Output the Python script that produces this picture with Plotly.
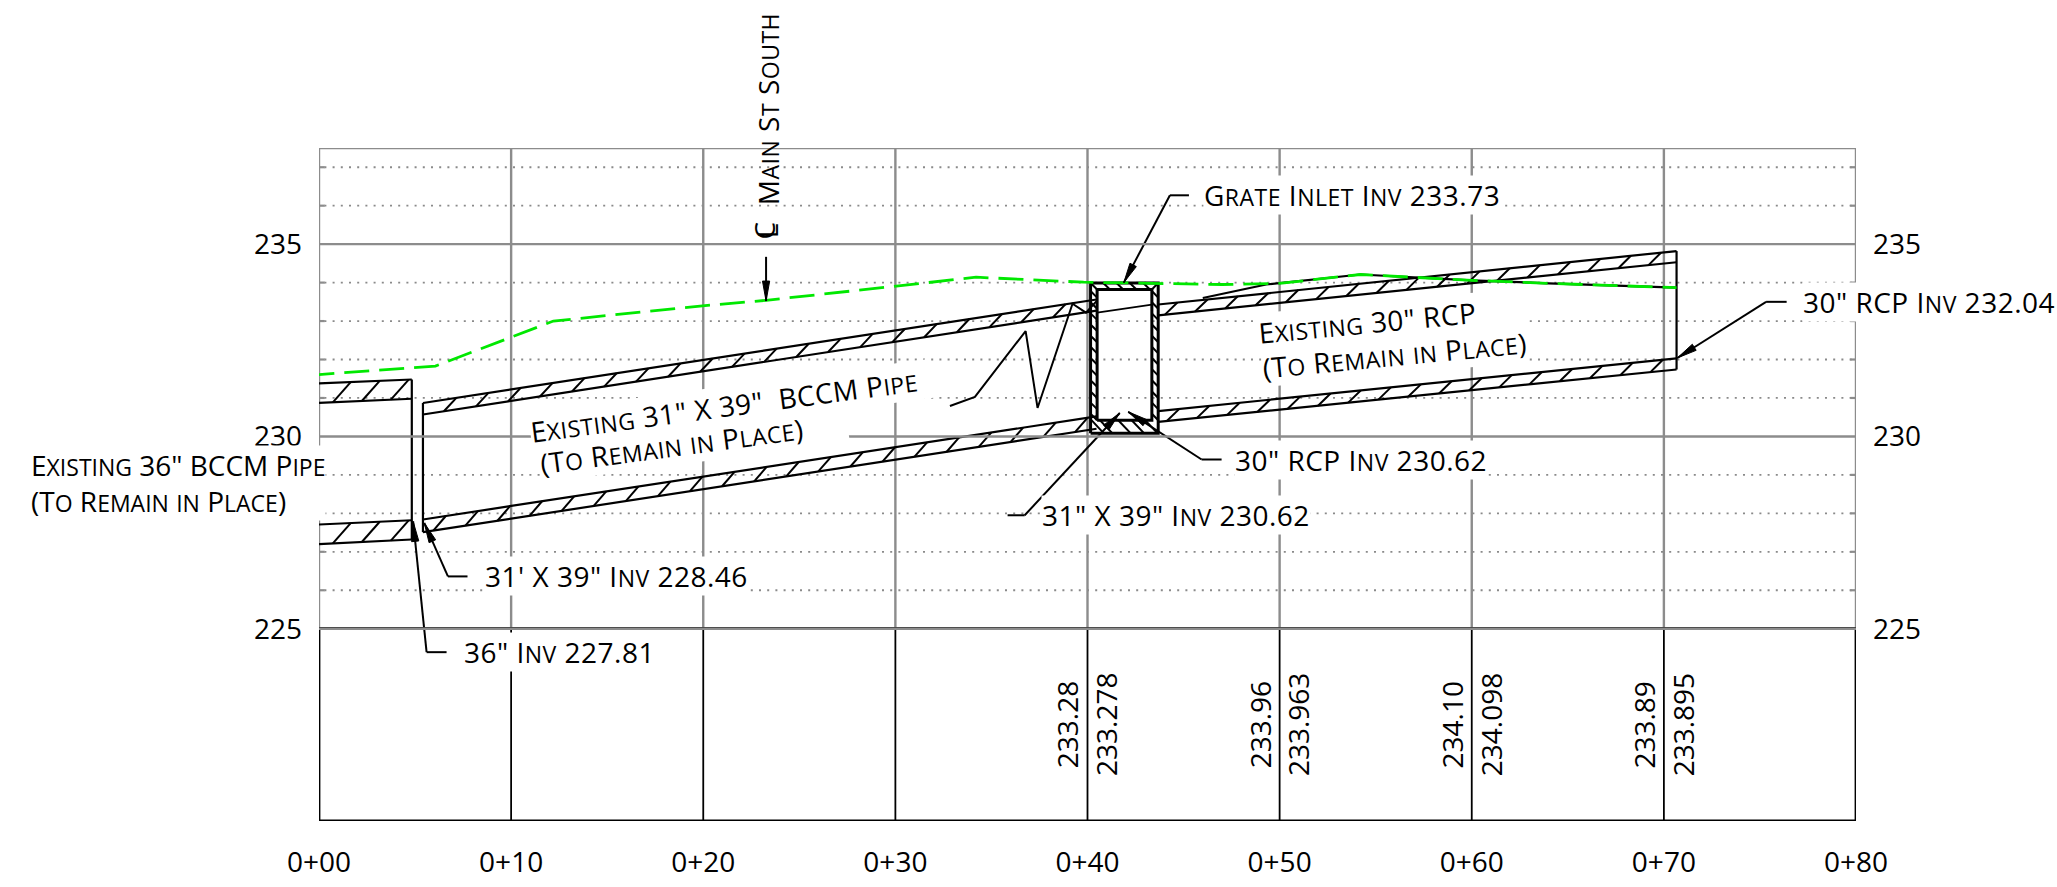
import numpy as np
import plotly.graph_objects as go

STATIONS = [0, 10, 20, 30, 40, 50, 60, 70, 80]
STATION_LABELS = ["0+00", "0+10", "0+20", "0+30", "0+40", "0+50", "0+60", "0+70", "0+80"]
ELEV_MAJOR = [225, 230, 235]
ELEV_MINOR = [226, 227, 228, 229, 231, 232, 233, 234, 236, 237]

TABLE_STATIONS = [40, 50, 60, 70]
TABLE_EXISTING = ["233.28", "233.96", "234.10", "233.89"]
TABLE_PROPOSED = ["233.278", "233.963", "234.098", "233.895"]

GROUND_X = [-0.5, 6.06, 6.64, 12.2, 19.83, 23.27, 29.9, 34.2, 39.8, 44, 47, 50, 54.2, 60, 64, 70.66]
GROUND_Y = [231.59, 231.83, 231.94, 233.0, 233.39, 233.54, 233.9, 234.14, 234.01, 233.97, 233.95, 233.98, 234.21, 234.06, 233.98, 233.87]
GROUND_BLACK_X = [46.0, 49.3, 54.2, 60, 64, 70.66]
GROUND_BLACK_Y = [233.6, 233.95, 234.21, 234.06, 233.98, 233.87]

P36_X = [0, 4.83]
P36_CROWN_OUT = [231.38, 231.48]
P36_CROWN_IN = [230.87, 230.98]
P36_INV_IN = [227.71, 227.82]
P36_INV_OUT = [227.2, 227.32]

BC_X = [5.41, 40.47]
BC_CROWN_OUT = [230.87, 233.56]
BC_CROWN_IN = [230.57, 233.27]
BC_INV_IN = [227.84, 230.52]
BC_INV_OUT = [227.51, 230.2]

RCP_X = [43.68, 70.66]
RCP_CROWN_OUT = [233.43, 234.82]
RCP_CROWN_IN = [233.15, 234.53]
RCP_INV_IN = [230.66, 232.03]
RCP_INV_OUT = [230.38, 231.74]

BOX_OUT_X = [40.16, 43.68]
BOX_OUT_Y = [230.08, 233.99]
BOX_IN_X = [40.5, 43.35]
BOX_IN_Y = [230.42, 233.82]

HATCH_P36 = [0.72, 2.23, 3.74]
HATCH_BC_TOP = [6.5, 8.17, 9.84, 11.5, 13.17, 14.84, 16.5, 18.17, 19.84, 21.5, 23.17, 24.84, 26.5, 28.17, 29.84, 31.5, 33.2, 34.9, 36.55, 38.2]
HATCH_BC_BOT = [5.95, 7.62, 9.29, 10.96, 12.63, 14.3, 15.97, 17.64, 19.31, 20.98, 22.65, 24.32, 25.99, 27.66, 29.33, 31.0, 32.67, 34.34, 36.0, 37.7, 39.35]
HATCH_RCP_TOP = [44.03, 45.6, 47.17, 48.75, 50.32, 51.9, 53.47, 55.04, 56.6, 58.2, 59.76, 61.33, 62.9, 64.48, 66.05, 67.63, 69.2]
HATCH_RCP_BOT = [44.13, 45.7, 47.27, 48.85, 50.42, 52.0, 53.57, 55.14, 56.7, 58.3, 59.86, 61.43, 63.0, 64.58, 66.15, 67.73, 69.3]
HATCH_WALL_Y = [233.78, 233.49, 233.2, 232.91, 232.62, 232.33, 232.04, 231.75, 231.46, 231.17, 230.88, 230.59]
HATCH_TOP_SLAB = [40.82, 41.51, 42.2, 42.9]
HATCH_BOT_SLAB = [40.65, 41.6, 42.3, 43.0]

ZIGZAG_X = [32.84, 34.14, 36.78, 37.40, 39.22, 39.92, 40.47]
ZIGZAG_Y = [230.79, 231.03, 232.74, 230.74, 233.45, 233.22, 233.52]

LEADERS = [
    ([45.28, 44.29], [236.27, 236.27], (41.89, 234.0)),
    ([76.39, 75.32], [233.5, 233.5], (70.7, 232.04)),
    ([35.84, 36.73], [227.95, 227.95], (41.68, 230.61)),
    ([46.98, 45.94], [229.4, 229.4], (42.12, 230.64)),
    ([6.64, 5.6], [224.39, 224.39], (4.9, 227.79)),
    ([7.73, 6.71], [226.36, 226.36], (5.48, 227.75)),
    ([23.27, 23.27], [234.67, 234.67], (23.27, 233.52)),
]

FONT = "Open Sans"
WEIGHT = 400
INK = "#000000"
GRAY = "#8c8c8c"
SIZE = 28
PX_X = 19.22
PX_Y = 38.44
NB = "\u00a0"


def sc(text, size=SIZE, spacing=0.5):
    small = int(size * 0.85)
    out, run = "", ""
    for ch in text:
        if ch.islower():
            run += ch.upper()
        else:
            if run:
                out += f'<span style="font-size:{small}px">{run}</span>'
                run = ""
            out += ch
    if run:
        out += f'<span style="font-size:{small}px">{run}</span>'
    return f'<span style="letter-spacing:{spacing}px">{out}</span>'


def segs(pairs):
    xs, ys = [], []
    for (x0, y0, x1, y1) in pairs:
        xs += [x0, x1, None]
        ys += [y0, y1, None]
    return xs, ys


fig = go.Figure()


def add(xs, ys, color=INK, width=2.2, dash=None, yaxis="y"):
    fig.add_trace(go.Scatter(x=xs, y=ys, mode="lines", cliponaxis=False, hoverinfo="skip", yaxis=yaxis,
                             line=dict(color=color, width=width, dash=dash, shape="linear"),
                             connectgaps=False, showlegend=False))


add(*segs([(-1, e, 81, e) for e in ELEV_MINOR]), color="#8a8a8a", width=1.8, dash="2px,6.2px")
add(*segs([(v, e, w, e) for e in ELEV_MINOR for v, w in ((-0.3, 0.3), (79.7, 80.3))]), color=GRAY, width=2.2)
add(*segs([(s, 225, s, 237.5) for s in STATIONS]), color=GRAY, width=2.4)
add(*segs([(-0.5, e, 80.5, e) for e in ELEV_MAJOR]), color=GRAY, width=2.4, yaxis="y2")
add([0, 80], [237.5, 237.5], color=GRAY, width=2.4)
add(*segs([(s, 220, s, 225) for s in STATIONS[1:-1]]), color=INK, width=1.8)
add([-0.5, 80.5], [225, 225], color=INK, width=2.8)
add([0, 0, 80, 80, 0], [225, 220, 220, 225, 225], color=INK, width=2.8)

for x, rail in ((P36_X, P36_CROWN_OUT), (P36_X, P36_CROWN_IN), (P36_X, P36_INV_IN), (P36_X, P36_INV_OUT),
                (BC_X, BC_CROWN_OUT), (BC_X, BC_CROWN_IN), (BC_X, BC_INV_IN), (BC_X, BC_INV_OUT),
                (RCP_X, RCP_CROWN_OUT), (RCP_X, RCP_CROWN_IN), (RCP_X, RCP_INV_IN), (RCP_X, RCP_INV_OUT)):
    add(x, rail)
add([P36_X[1]] * 2, [P36_CROWN_OUT[1], P36_INV_OUT[1]])
add([BC_X[0]] * 2, [BC_CROWN_OUT[0], BC_INV_OUT[0]])
add([RCP_X[1]] * 2, [RCP_CROWN_OUT[1], RCP_INV_OUT[1]])

for bx, by in ((BOX_OUT_X, BOX_OUT_Y), (BOX_IN_X, BOX_IN_Y)):
    add([bx[0], bx[1], bx[1], bx[0], bx[0]], [by[0], by[0], by[1], by[1], by[0]], width=3)
add([BOX_IN_X[0], BOX_IN_X[1]], [233.22, 233.43], width=1.8)


def hatch(stations, x_rail, low, high, run):
    pairs = []
    for s in stations:
        e = min(s + run, x_rail[1])
        pairs.append((s, float(np.interp(s, x_rail, low)), e, float(np.interp(e, x_rail, high))))
    add(*segs(pairs), width=2)


hatch(HATCH_P36, P36_X, P36_CROWN_IN, P36_CROWN_OUT, 0.93)
hatch(HATCH_P36, P36_X, P36_INV_OUT, P36_INV_IN, 0.93)
hatch(HATCH_BC_TOP, BC_X, BC_CROWN_IN, BC_CROWN_OUT, 0.65)
hatch(HATCH_BC_BOT, BC_X, BC_INV_OUT, BC_INV_IN, 0.65)
hatch(HATCH_RCP_TOP, RCP_X, RCP_CROWN_IN, RCP_CROWN_OUT, 0.65)
hatch(HATCH_RCP_BOT, RCP_X, RCP_INV_OUT, RCP_INV_IN, 0.65)
add(*segs([(BOX_OUT_X[0], y, BOX_IN_X[0], y - 0.17) for y in HATCH_WALL_Y]), width=2)
add(*segs([(BOX_IN_X[1], y, BOX_OUT_X[1], y - 0.17) for y in HATCH_WALL_Y]), width=2)
add(*segs([(x, BOX_OUT_Y[1], x + 0.35, BOX_IN_Y[1]) for x in HATCH_TOP_SLAB]), width=2)
add(*segs([(x, BOX_IN_Y[0], x + 0.65, BOX_OUT_Y[0]) for x in HATCH_BOT_SLAB]), width=2)
add(*segs([(BOX_OUT_X[0], BOX_OUT_Y[1], BOX_IN_X[0], BOX_IN_Y[1]),
           (BOX_IN_X[1], BOX_IN_Y[1], BOX_OUT_X[1], BOX_OUT_Y[1]),
           (BOX_OUT_X[0], 230.45, 40.85, BOX_OUT_Y[0])]), width=2)

add(ZIGZAG_X, ZIGZAG_Y, width=2)
add(GROUND_BLACK_X, GROUND_BLACK_Y, width=2.2)
add(GROUND_X, GROUND_Y, color="#00e800", width=2.8, dash="25px,10px")


def arrow(tail_x, tail_y, tip_x, tip_y, length=20, half=3.6):
    add([tail_x, tip_x], [tail_y, tip_y], width=2)
    dx, dy = (tip_x - tail_x) * PX_X, (tip_y - tail_y) * PX_Y
    n = float(np.hypot(dx, dy))
    ux, uy = dx / n, dy / n
    bx, by = -ux * length, -uy * length
    xs = [tip_x, tip_x + (bx - uy * half) / PX_X, tip_x + (bx + uy * half) / PX_X, tip_x]
    ys = [tip_y, tip_y + (by + ux * half) / PX_Y, tip_y + (by - ux * half) / PX_Y, tip_y]
    fig.add_trace(go.Scatter(x=xs, y=ys, mode="lines", fill="toself", fillcolor=INK, cliponaxis=False,
                             hoverinfo="skip", line=dict(color=INK, width=1), showlegend=False))


for lx, ly, tip in LEADERS:
    add(lx, ly, width=2)
    arrow(lx[-1], ly[-1], tip[0], tip[1])

ann = []


def text(x, y, t, xanchor="left", angle=0, size=SIZE, bg="white", font=FONT):
    ann.append(dict(x=x / 80, y=(y - 220) / 17.5, xref="paper", yref="paper", text=t, showarrow=False,
                    xanchor=xanchor, yanchor="middle", align="left", textangle=angle, bgcolor=bg, borderpad=0,
                    font=dict(family=font, size=size, color=INK, weight=WEIGHT)))


CLEAR = "rgba(0,0,0,0)"
text(-15.05, 228.8, sc('Existing 36" BCCM Pipe', spacing=0) + "<br>" + sc('(To Remain in Place)', spacing=0))
text(21.46, 230.81, sc('Existing 31" X 39"  BCCM Pipe') + NB * 2, "center", angle=-7.6)
text(19.47, 229.84, sc('(To Remain in Place)') + NB * 6, "center", angle=-7.6)
text(55.88, 233.02, sc('Existing 30" RCP') + NB * 7, "center", angle=-5.5)
text(55.99, 232.13, sc('(To Remain in Place)'), "center", angle=-5.5)
text(46.0, 236.27, sc('Grate Inlet Inv 233.73'))
text(77.2, 233.5, sc('30" RCP Inv 232.04'))
text(47.6, 229.4, sc('30" RCP Inv 230.62'))
text(37.6, 227.95, sc('31" X 39" Inv 230.62'))
text(8.6, 226.36, sc("31' X 39\" Inv 228.46"))
text(7.5, 224.39, sc('36" Inv 227.81'))
text(23.35, 238.5, sc('Main St South'), "center", angle=-90, bg=CLEAR)
text(23.15, 235.35, "C", "center", angle=-90, bg=CLEAR)
text(23.3, 235.35, "L", "center", angle=-90, bg=CLEAR)
for s, a, b in zip(TABLE_STATIONS, TABLE_EXISTING, TABLE_PROPOSED):
    text(s - 1.05, 222.5, a, "center", angle=-90, bg=CLEAR)
    text(s + 0.97, 222.5, b, "center", angle=-90, bg=CLEAR)

tickfont = dict(family=FONT, size=SIZE, color=INK, weight=WEIGHT)
fig.update_layout(
    width=2057, height=887, autosize=False, showlegend=False,
    paper_bgcolor="white", plot_bgcolor="white",
    margin=dict(l=318.8, r=200.6, t=148.2, b=66, pad=0, autoexpand=False),
    annotations=ann,
    xaxis=dict(range=[0, 80], tickvals=STATIONS, ticktext=STATION_LABELS, showgrid=False, zeroline=False,
               ticks="", tickfont=tickfont, ticklabelstandoff=22, showline=False, automargin=False),
    yaxis=dict(range=[220, 237.5], tickvals=ELEV_MAJOR, ticktext=[str(v) for v in ELEV_MAJOR], showgrid=False,
               zeroline=False, ticks="", tickfont=tickfont, ticklabelstandoff=16, showline=False, automargin=False),
    yaxis2=dict(range=[220, 237.5], overlaying="y", side="right", tickvals=ELEV_MAJOR,
                ticktext=[str(v) for v in ELEV_MAJOR], showgrid=False, zeroline=False, ticks="",
                tickfont=tickfont, ticklabelstandoff=16, showline=False, automargin=False),
)
fig.write_html("out.html", post_script="document.body.style.margin='0';", config=dict(displayModeBar=False))
